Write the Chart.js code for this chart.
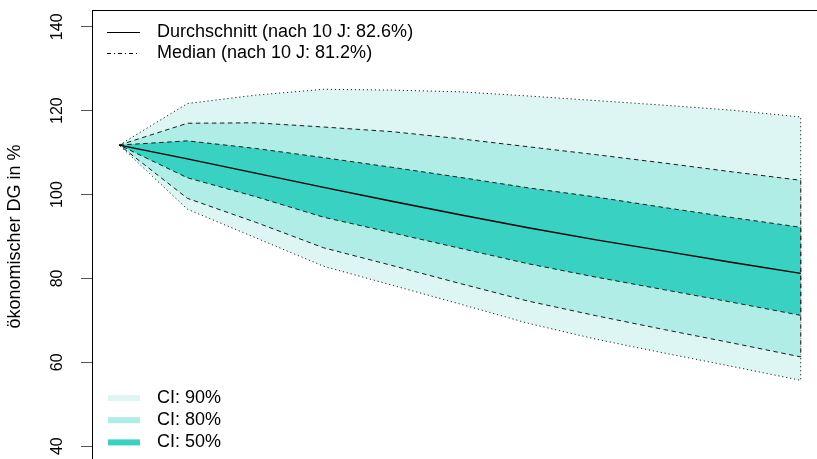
<!DOCTYPE html>
<html>
<head>
<meta charset="utf-8">
<script src="https://cdn.jsdelivr.net/npm/chart.js@4.4.1/dist/chart.umd.min.js"></script>
<style>
  html, body { margin: 0; padding: 0; overflow: hidden; background: #fff; width: 817px; height: 459px; }
  #wrap { position: relative; width: 830px; height: 466px; }
</style>
</head>
<body>
<div id="wrap"><canvas id="c"></canvas></div>
<script>
// Projection horizon in years
const years = [0, 1, 2, 3, 4, 5, 6, 7, 8, 9, 10];

// Confidence band limits (in %)
const upper90 = [111.8, 121.7, 123.7, 125.1, 124.9, 124.5, 123.5, 122.4, 121.3, 120.1, 118.5];
const upper80 = [111.8, 117.0, 117.1, 116.1, 115.0, 113.3, 111.4, 109.5, 107.5, 105.4, 103.4];
const upper50 = [111.8, 112.8, 111.0, 108.8, 106.5, 104.1, 101.6, 99.4, 96.9, 94.5, 92.2];
const lower50 = [111.8, 104.0, 99.5, 94.6, 90.9, 87.2, 83.5, 80.3, 77.3, 74.3, 71.2];
const lower80 = [111.8, 99.1, 93.4, 87.3, 83.1, 78.8, 74.6, 71.1, 67.8, 64.6, 61.3];
const lower90 = [111.8, 96.5, 89.7, 82.9, 78.4, 73.9, 69.3, 65.5, 62.2, 59.0, 55.7];

// Central path
const pathValues = [111.8, 108.5, 105.1, 101.7, 98.4, 95.2, 92.1, 89.2, 86.5, 83.8, 81.2];

// Axis ticks
const yTicks = [40, 60, 80, 100, 120, 140];

// Legend texts
const lineLegend = ['Durchschnitt (nach 10 J: 82.6%)', 'Median (nach 10 J: 81.2%)'];
const bandLegend = ['CI: 90%', 'CI: 80%', 'CI: 50%'];

const COL90 = '#DDF6F3';
const COL80 = '#AFEDE6';
const COL50 = '#38D1C2';
const FONT = '"Liberation Sans", Arial, Helvetica, sans-serif';

// Closed outline: upper edge forwards, lower edge backwards
function band(up, lo) {
  const pts = years.map((x, i) => ({ x: x, y: up[i] }));
  for (let i = years.length - 1; i >= 0; i--) pts.push({ x: years[i], y: lo[i] });
  return pts;
}

const decorations = {
  id: 'decorations',
  afterDraw(chart) {
    const ctx = chart.ctx;
    const a = chart.chartArea;
    ctx.save();
    // top frame line
    ctx.strokeStyle = '#000';
    ctx.lineWidth = 1;
    ctx.setLineDash([]);
    ctx.beginPath();
    ctx.moveTo(a.left, a.top + 0.5);
    ctx.lineTo(a.right, a.top + 0.5);
    ctx.stroke();

    ctx.font = '18px ' + FONT;
    ctx.fillStyle = '#000';
    ctx.textAlign = 'left';
    ctx.textBaseline = 'middle';

    // line legend (top left)
    const lx0 = a.left + 15, lx1 = a.left + 48, tx = a.left + 65;
    const dashes = [[], [4, 3, 1, 3]];
    lineLegend.forEach((t, i) => {
      const y = a.top + 22 + i * 21;
      ctx.strokeStyle = '#000';
      ctx.lineWidth = 1.2;
      ctx.setLineDash(dashes[i]);
      ctx.beginPath();
      ctx.moveTo(lx0, y + 0.5);
      ctx.lineTo(lx1, y + 0.5);
      ctx.stroke();
      ctx.fillText(t, tx, y);
    });

    // band legend (bottom left)
    const cols = [COL90, COL80, COL50];
    ctx.setLineDash([]);
    bandLegend.forEach((t, i) => {
      const y = a.bottom - 65 + i * 22.2;
      ctx.strokeStyle = cols[i];
      ctx.lineWidth = 6;
      ctx.beginPath();
      ctx.moveTo(lx0 + 1, y);
      ctx.lineTo(lx1, y);
      ctx.stroke();
      ctx.fillText(t, tx, y);
    });
    ctx.restore();
  }
};

new Chart(document.getElementById('c'), {
  type: 'line',
  data: {
    datasets: [
      {
        label: 'path',
        data: years.map((x, i) => ({ x: x, y: pathValues[i] })),
        borderColor: '#000',
        borderWidth: 1.4,
        fill: false,
        order: 0
      },
      {
        label: 'CI 50',
        data: band(upper50, lower50),
        borderColor: '#1a1a1a',
        borderWidth: 1,
        borderDash: [4.5, 3.5],
        backgroundColor: COL50,
        fill: 'shape',
        order: 1
      },
      {
        label: 'CI 80',
        data: band(upper80, lower80),
        borderColor: '#1a1a1a',
        borderWidth: 1,
        borderDash: [4.5, 3.5],
        backgroundColor: COL80,
        fill: 'shape',
        order: 2
      },
      {
        label: 'CI 90',
        data: band(upper90, lower90),
        borderColor: '#222',
        borderWidth: 1,
        borderDash: [1.2, 2.8],
        backgroundColor: COL90,
        fill: 'shape',
        order: 3
      }
    ]
  },
  options: {
    responsive: true,
    maintainAspectRatio: false,
    animation: false,
    events: [],
    layout: { padding: { top: 10, right: 2, bottom: 3, left: 0 } },
    elements: { point: { radius: 0 }, line: { tension: 0 } },
    plugins: { legend: { display: false }, tooltip: { enabled: false } },
    scales: {
      x: {
        type: 'linear',
        min: -0.4,
        max: 10.4,
        display: false
      },
      y: {
        type: 'linear',
        min: 36,
        max: 144,
        afterBuildTicks(scale) { scale.ticks = yTicks.map(v => ({ value: v })); },
        afterFit(scale) {
          scale.width = 92;
          scale.paddingTop = 0;
          scale.paddingBottom = 0;
        },
        ticks: {
          color: '#000',
          font: { family: FONT, size: 16 },
          minRotation: 90,
          maxRotation: 90,
          crossAlign: 'center',
          padding: 10
        },
        grid: {
          drawOnChartArea: false,
          drawTicks: true,
          tickLength: 11,
          color: '#555',
          lineWidth: 1
        },
        border: { display: true, color: '#000', width: 1 },
        title: {
          display: true,
          text: 'ökonomischer DG in %',
          color: '#000',
          font: { family: FONT, size: 18 },
          padding: { top: 4, bottom: 0 }
        }
      }
    }
  },
  plugins: [decorations]
});
</script>
</body>
</html>
